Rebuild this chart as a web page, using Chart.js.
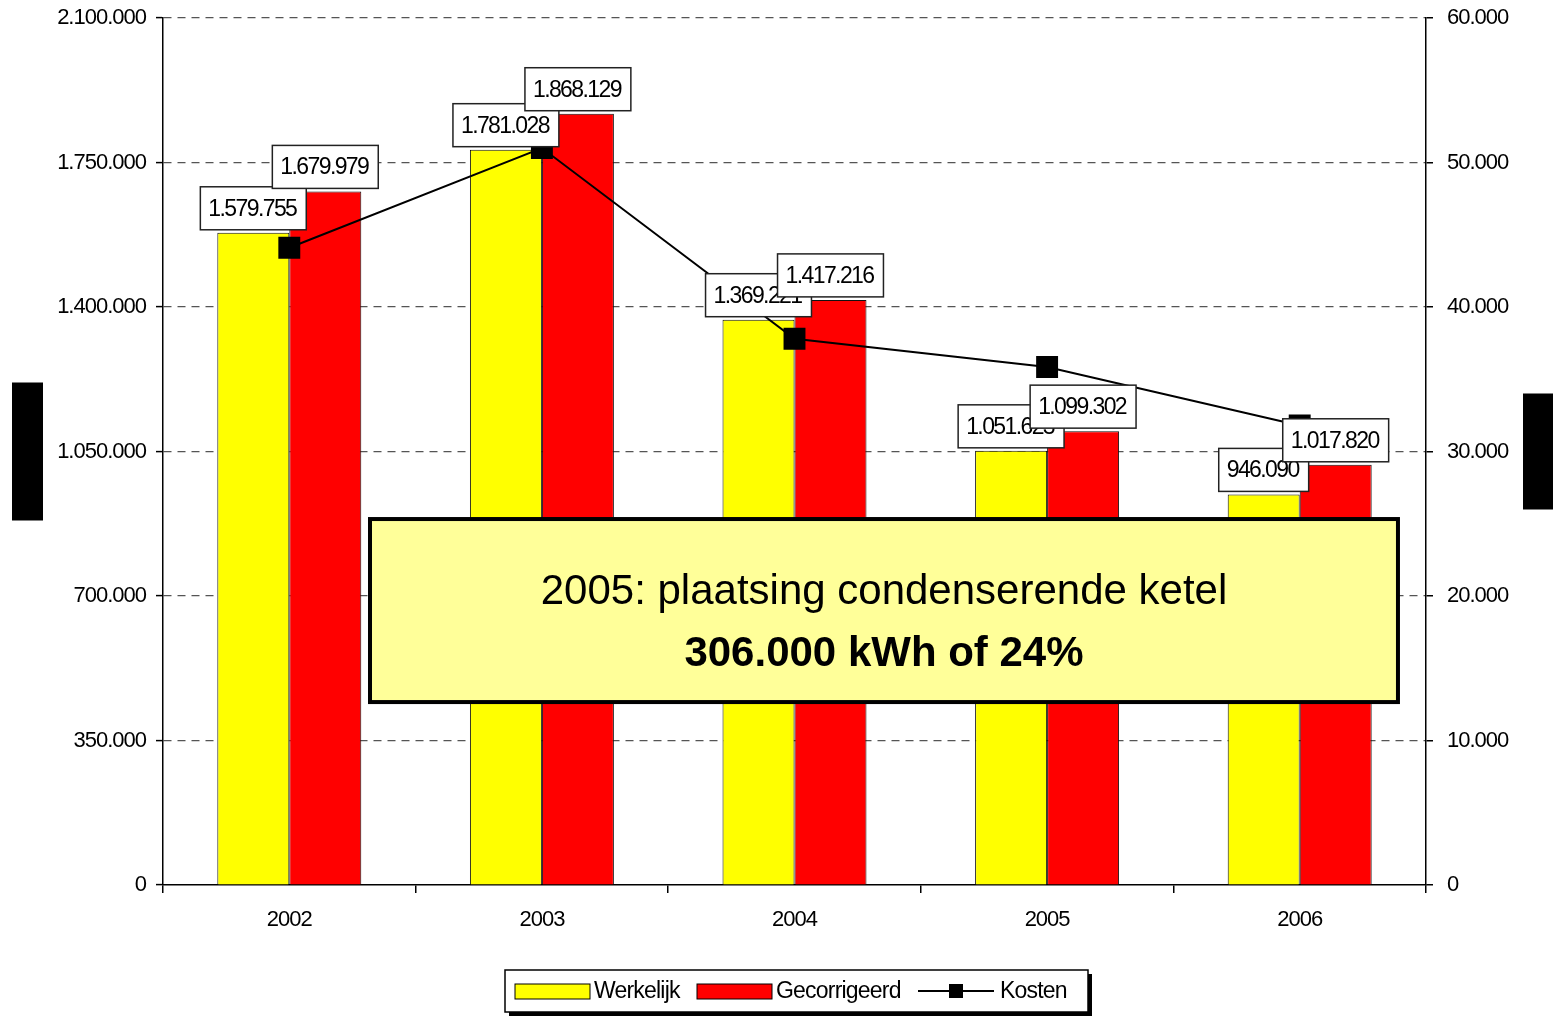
<!DOCTYPE html>
<html>
<head>
<meta charset="utf-8">
<script src="https://cdn.jsdelivr.net/npm/chart.js@4/dist/chart.umd.min.js"></script>
<style>
  body { margin: 0; background: #fff; }
  canvas { display: block; }
</style>
</head>
<body>
<canvas id="chart" width="1553" height="1016"></canvas>
<script>
// chart data
const years = ["2002", "2003", "2004", "2005", "2006"];
const werkelijk = [1579755, 1781028, 1369221, 1051623, 946090];
const gecorrigeerd = [1679979, 1868129, 1417216, 1099302, 1017820];
const kosten = [44100, 51000, 37800, 35850, 31800];
const leftAxis = { min: 0, max: 2100000, step: 350000 };
const rightAxis = { min: 0, max: 60000, step: 10000 };
const noteLines = ["2005: plaatsing condenserende ketel", "306.000 kWh of 24%"];

const FONT = "'Liberation Sans', Arial, sans-serif";
Chart.defaults.font.family = FONT;
Chart.defaults.color = "#000";

// 1234567 -> "1.234.567"
function fmt(n) {
  return String(Math.round(n)).replace(/\B(?=(\d{3})+(?!\d))/g, ".");
}

// tighter text like the original (axis labels)
const tightText = {
  id: "tightText",
  beforeDraw(chart) {
    chart.ctx.letterSpacing = "-1px";
  },
};

// white boxes with the bar values, drawn over bars and line
const barLabels = {
  id: "barLabels",
  afterDatasetsDraw(chart) {
    const ctx = chart.ctx;
    ctx.save();
    ctx.font = "23px " + FONT;
    ctx.letterSpacing = "-1.6px";
    ctx.textAlign = "center";
    ctx.textBaseline = "middle";
    [0, 1].forEach((di) => {
      chart.getDatasetMeta(di).data.forEach((bar, i) => {
        const txt = fmt(chart.data.datasets[di].data[i]);
        const w = ctx.measureText(txt).width + 18;
        const h = 43;
        const x = bar.x - w / 2;
        const y = bar.y - 3 - h;
        ctx.fillStyle = "#fff";
        ctx.fillRect(x, y, w, h);
        ctx.strokeStyle = "#222";
        ctx.lineWidth = 1.5;
        ctx.strokeRect(x, y, w, h);
        ctx.fillStyle = "#000";
        ctx.fillText(txt, bar.x - 1, y + h / 2 + 1);
      });
    });
    ctx.restore();
  },
};

// note box, hidden axis titles and the boxed legend
const extras = {
  id: "extras",
  afterDraw(chart) {
    const ctx = chart.ctx;
    const a = chart.chartArea;
    const W = a.right - a.left;
    const H = a.bottom - a.top;
    ctx.save();
    ctx.letterSpacing = "0px";

    // axis titles (rendered as black blocks in the original)
    const midY = (a.top + a.bottom) / 2;
    ctx.fillStyle = "#000";
    ctx.fillRect(12, midY - 69, 31, 138);
    ctx.fillRect(chart.width - 30, midY - 58, 30, 116);

    // note box
    const bx = a.left + W * 0.1639;
    const bw = W * (0.9778 - 0.1639);
    const by = a.top + H * 0.5779;
    const bh = H * (0.789 - 0.5779);
    ctx.fillStyle = "#FFFF99";
    ctx.fillRect(bx, by, bw, bh);
    ctx.strokeStyle = "#000";
    ctx.lineWidth = 4;
    ctx.strokeRect(bx, by, bw, bh);
    ctx.fillStyle = "#000";
    ctx.textAlign = "center";
    ctx.textBaseline = "middle";
    ctx.font = "42px " + FONT;
    ctx.fillText(noteLines[0], bx + bw / 2, by + bh * 0.4);
    ctx.font = "bold 42px " + FONT;
    ctx.fillText(noteLines[1], bx + bw / 2, by + bh * 0.74);

    // legend
    const lx = 505, ly = 970, lw = 583, lh = 42;
    ctx.fillStyle = "#000";
    ctx.fillRect(lx + 4, ly + 4, lw, lh);
    ctx.fillStyle = "#fff";
    ctx.fillRect(lx, ly, lw, lh);
    ctx.lineWidth = 1.5;
    ctx.strokeRect(lx, ly, lw, lh);

    const cy = ly + lh / 2;
    const ds = chart.data.datasets;
    ctx.font = "23px " + FONT;
    ctx.textAlign = "left";
    ctx.letterSpacing = "-0.8px";
    ctx.lineWidth = 1;
    ctx.fillStyle = ds[0].backgroundColor;
    ctx.fillRect(515, cy - 7, 75, 15);
    ctx.strokeRect(515, cy - 7, 75, 15);
    ctx.fillStyle = "#000";
    ctx.fillText(ds[0].label, 594, cy + 1);
    ctx.fillStyle = ds[1].backgroundColor;
    ctx.fillRect(697, cy - 7, 75, 15);
    ctx.strokeRect(697, cy - 7, 75, 15);
    ctx.fillStyle = "#000";
    ctx.fillText(ds[1].label, 776, cy + 1);
    ctx.lineWidth = 2;
    ctx.beginPath();
    ctx.moveTo(918, cy);
    ctx.lineTo(994, cy);
    ctx.stroke();
    ctx.fillRect(949, cy - 7, 14, 14);
    ctx.fillText(ds[2].label, 1000, cy + 1);

    ctx.restore();
  },
};

// keep the plot area where the original has it
function noEdgePadding(s) {
  s.paddingTop = 0;
  s.paddingBottom = 0;
}

new Chart(document.getElementById("chart"), {
  type: "bar",
  data: {
    labels: years,
    datasets: [
      {
        label: "Werkelijk",
        data: werkelijk,
        backgroundColor: "#FFFF00",
        borderColor: "#111",
        borderWidth: 1,
        order: 1,
        yAxisID: "y",
      },
      {
        label: "Gecorrigeerd",
        data: gecorrigeerd,
        backgroundColor: "#FF0000",
        borderColor: "#111",
        borderWidth: 1,
        order: 1,
        yAxisID: "y",
      },
      {
        type: "line",
        label: "Kosten",
        data: kosten,
        borderColor: "#000",
        borderWidth: 2,
        backgroundColor: "#000",
        pointStyle: "rect",
        pointRadius: 15.5,
        pointHoverRadius: 15.5,
        pointBorderWidth: 0,
        tension: 0,
        order: 0,
        yAxisID: "y1",
      },
    ],
  },
  options: {
    responsive: false,
    animation: false,
    layout: { padding: { top: 18, left: 0, right: 0, bottom: 0 } },
    plugins: { legend: { display: false }, tooltip: { enabled: false } },
    datasets: { bar: { categoryPercentage: 0.57, barPercentage: 1 } },
    scales: {
      x: {
        grid: { offset: true, drawOnChartArea: false, tickLength: 8, color: "#000", lineWidth: 1.5 },
        border: { color: "#000", width: 1.5 },
        ticks: { font: { size: 22 }, padding: 14, color: "#000" },
        afterFit: (s) => { s.height = 131; s.paddingLeft = 0; s.paddingRight = 0; },
      },
      y: {
        position: "left",
        min: leftAxis.min,
        max: leftAxis.max,
        grid: {
          color: (c) => (c.tick && c.tick.value === 0 ? "rgba(0,0,0,0)" : "#555"),
          lineWidth: 1.2,
          tickLength: 7,
          tickColor: "#000",
          tickWidth: 1.5,
        },
        border: { color: "#000", width: 1.5, dash: [8, 6] },
        ticks: { stepSize: leftAxis.step, font: { size: 22 }, padding: 10, color: "#000", callback: (v) => fmt(v) },
        afterFit: (s) => { s.width = 163; noEdgePadding(s); },
      },
      y1: {
        position: "right",
        min: rightAxis.min,
        max: rightAxis.max,
        grid: { drawOnChartArea: false, tickLength: 7, color: "#000", lineWidth: 1.5 },
        border: { color: "#000", width: 1.5 },
        ticks: { stepSize: rightAxis.step, font: { size: 22 }, padding: 14, color: "#000", callback: (v) => fmt(v) },
        afterFit: (s) => { s.width = 127; noEdgePadding(s); },
      },
    },
  },
  plugins: [tightText, barLabels, extras],
});
</script>
</body>
</html>
